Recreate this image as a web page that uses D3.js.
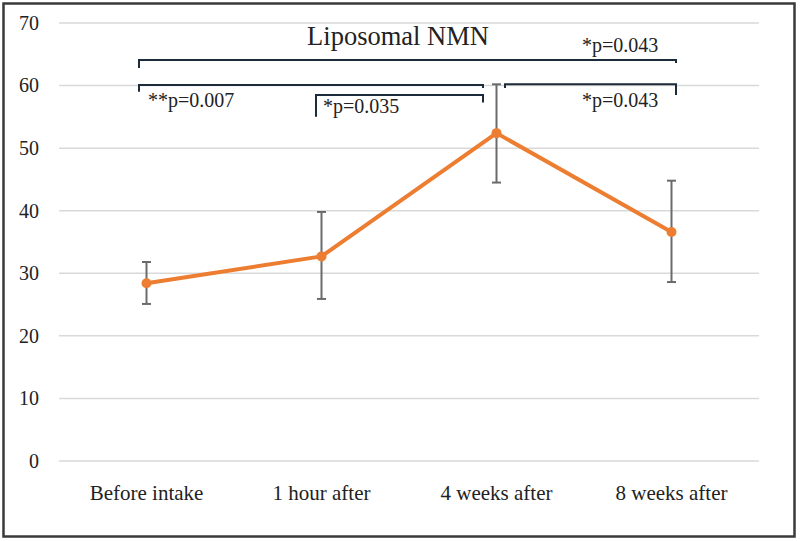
<!DOCTYPE html>
<html>
<head>
	<meta charset=utf-8>
	<script src="https://d3js.org/d3.v7.min.js"></script>
	<style type="text/css">
		body{ margin: 0; background: #fff; }
		text{ font-family: "Liberation Serif", "DejaVu Serif", serif; fill: #222; }
	</style>
</head>
<body>
	<svg id="chart" width="800" height="541"></svg>

	<script type="text/javascript">
		// values
		const categories = ['Before intake', '1 hour after', '4 weeks after', '8 weeks after'];
		const means = [28.4, 32.7, 52.4, 36.6];
		const upper = [31.8, 39.8, 60.2, 44.8];
		const lower = [25.1, 25.9, 44.5, 28.6];
		const yTicks = [0, 10, 20, 30, 40, 50, 60, 70];

		// significance brackets: category index from/to, level and end drops (value units)
		const bracketFrom = [0, 0, 1, 2];
		const bracketTo = [3, 2, 2, 3];
		const bracketLevel = [64.1, 60.1, 58.5, 60.2];
		const bracketDropL = [62.8, 59.0, 55.0, 59.6];
		const bracketDropR = [63.6, 59.6, 57.3, 58.5];
		const pLabels = ['*p=0.043', '**p=0.007', '*p=0.035', '*p=0.043'];

		const svg = d3.select('#chart');
		const plotL = 59, plotR = 759, plotT = 23, plotB = 461;

		const x = d3.scaleBand().domain(d3.range(categories.length)).range([plotL, plotR]);
		const cx = i => x(i) + x.bandwidth() / 2;
		const y = d3.scaleLinear().domain([0, 70]).range([plotB, plotT]);

		// frame
		svg.append('rect')
			.attr('x', 3.5).attr('y', 3.5).attr('width', 791).attr('height', 533)
			.attr('fill', 'none').attr('stroke', '#3a3a3a').attr('stroke-width', 2.5);

		// grid
		svg.append('g').selectAll('line')
			.data(yTicks).enter().append('line')
			.attr('x1', plotL).attr('x2', plotR)
			.attr('y1', d => y(d)).attr('y2', d => y(d))
			.attr('stroke', '#d9d9d9').attr('stroke-width', 1.5);

		// y axis labels
		const yAxis = d3.axisLeft(y).tickValues(yTicks).tickSize(0).tickPadding(0);
		svg.append('g')
			.attr('transform', 'translate(39,0)')
			.call(yAxis)
			.call(g => g.select('.domain').remove())
			.selectAll('text')
			.attr('font-size', 20)
			.attr('font-family', '"Liberation Serif", serif')
			.attr('fill', '#222');

		// x axis labels
		const xAxis = d3.axisBottom(x).tickFormat(i => categories[i]).tickSize(0).tickPadding(0);
		svg.append('g')
			.attr('transform', 'translate(0,485)')
			.call(xAxis)
			.call(g => g.select('.domain').remove())
			.selectAll('text')
			.attr('font-size', 21)
			.attr('font-family', '"Liberation Serif", serif')
			.attr('fill', '#222');

		// error bars
		const eb = svg.append('g').attr('stroke', '#6b6b6b').attr('stroke-width', 2);
		means.forEach(function(m, i){
			eb.append('line').attr('x1', cx(i)).attr('x2', cx(i)).attr('y1', y(upper[i])).attr('y2', y(lower[i]));
			eb.append('line').attr('x1', cx(i) - 4.5).attr('x2', cx(i) + 4.5).attr('y1', y(upper[i])).attr('y2', y(upper[i]));
			eb.append('line').attr('x1', cx(i) - 4.5).attr('x2', cx(i) + 4.5).attr('y1', y(lower[i])).attr('y2', y(lower[i]));
		});

		// line + markers
		const line = d3.line().x((d, i) => cx(i)).y(d => y(d));
		svg.append('path')
			.datum(means)
			.attr('d', line)
			.attr('fill', 'none')
			.attr('stroke', '#ed7d31')
			.attr('stroke-width', 4)
			.attr('stroke-linejoin', 'round');

		svg.append('g').selectAll('circle')
			.data(means).enter().append('circle')
			.attr('cx', (d, i) => cx(i))
			.attr('cy', d => y(d))
			.attr('r', 5)
			.attr('fill', '#ed7d31');

		// brackets
		const padL = [-7.5, -7.5, -5.5, 8.5];
		const padR = [4.5, -13.5, -13.5, 4.5];
		const br = svg.append('g').attr('fill', 'none').attr('stroke', '#1c2b3a').attr('stroke-width', 2);
		bracketFrom.forEach(function(f, k){
			const x0 = cx(f) + padL[k], x1 = cx(bracketTo[k]) + padR[k];
			br.append('path')
				.attr('d', `M${x0},${y(bracketDropL[k])}V${y(bracketLevel[k])}H${x1}V${y(bracketDropR[k])}`);
		});

		// annotation text
		svg.append('text')
			.attr('x', 398).attr('y', 45)
			.attr('text-anchor', 'middle')
			.attr('font-size', 26.5)
			.text('Liposomal NMN');

		const labelX = [582, 148, 323, 582];
		const labelY = [52, 107, 113, 107];
		svg.append('g').selectAll('text')
			.data(pLabels).enter().append('text')
			.attr('x', (d, i) => labelX[i])
			.attr('y', (d, i) => labelY[i])
			.attr('font-size', 20)
			.text(d => d);
	</script>
</body>
</html>
